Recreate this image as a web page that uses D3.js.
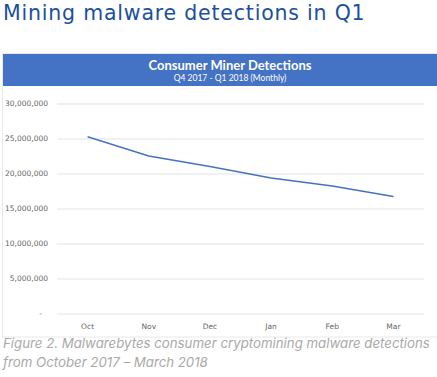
<!DOCTYPE html>
<html><head><meta charset="utf-8">
<script src="https://cdn.jsdelivr.net/npm/d3@7"></script>
<style>
body{margin:0;background:#fff;}
svg{display:block;}
</style></head>
<body>
<svg id="chart" width="437" height="377"></svg>
<script>
const pageTitle = "Mining malware detections in Q1";
const chartTitle = "Consumer Miner Detections";
const chartSubtitle = "Q4 2017 - Q1 2018 (Monthly)";
const captionLines = ["Figure 2. Malwarebytes consumer cryptomining malware detections", "from October 2017 \u2013 March 2018"];
const months = ["Oct", "Nov", "Dec", "Jan", "Feb", "Mar"];
const detections = [25250000, 22500000, 21000000, 19350000, 18200000, 16700000];
const yTicks = [0, 5000000, 10000000, 15000000, 20000000, 25000000, 30000000];

const svg = d3.select("#chart");

svg.append("text").attr("x", 3).attr("y", 19.5)
  .attr("font-family", "'DejaVu Sans', sans-serif").attr("font-size", 20.5)
  .attr("letter-spacing", 0.8)
  .attr("fill", "#1c4f9d").text(pageTitle);

// chart box
svg.append("rect").attr("x", 2.5).attr("y", 53.5).attr("width", 460).attr("height", 283.5)
  .attr("fill", "#fff").attr("stroke", "#e8e8e8");
svg.append("rect").attr("x", 3).attr("y", 54).attr("width", 460).attr("height", 32)
  .attr("fill", "#4472c4");
svg.append("text").attr("x", 230).attr("y", 70).attr("text-anchor", "middle")
  .attr("font-family", "Lato, 'Open Sans', sans-serif").attr("font-weight", "bold").attr("font-size", 13)
  .attr("fill", "#fff").text(chartTitle);
svg.append("text").attr("x", 230).attr("y", 81).attr("text-anchor", "middle")
  .attr("font-family", "Lato, 'Open Sans', sans-serif").attr("font-size", 8.5)
  .attr("fill", "#fff").text(chartSubtitle);

const x = d3.scaleBand().domain(months).range([57, 424]);
const y = d3.scaleLinear().domain([0, 30000000]).range([313.5, 103.5]);

const fmt = v => v === 0 ? "-" : d3.format(",")(v);

const yAxis = svg.append("g").attr("transform", "translate(57,0)")
  .call(d3.axisLeft(y).tickValues(yTicks).tickSize(-367).tickFormat(fmt).tickPadding(9));
yAxis.select(".domain").remove();
yAxis.selectAll(".tick line").attr("stroke", "#e3e3e3").attr("stroke-width", 1);
yAxis.selectAll(".tick text").attr("fill", "#666").attr("font-size", 7.5)
  .attr("font-family", "'DejaVu Sans', sans-serif");
yAxis.selectAll(".tick").filter(d => d === 0).select("text").attr("dx", -6);

const xAxis = svg.append("g").attr("transform", "translate(0,313.5)")
  .call(d3.axisBottom(x).tickSize(0).tickPadding(10));
xAxis.select(".domain").remove();
xAxis.selectAll(".tick text").attr("fill", "#666").attr("font-size", 7.5)
  .attr("font-family", "'DejaVu Sans', sans-serif");

const line = d3.line().x((d, i) => x(months[i]) + x.bandwidth() / 2).y(d => y(d));
svg.append("path").datum(detections).attr("d", line)
  .attr("fill", "none").attr("stroke", "#4472c4").attr("stroke-width", 1.5);

svg.selectAll(".cap").data(captionLines).enter().append("text")
  .attr("x", 3).attr("y", (d, i) => 347.5 + i * 19.5)
  .attr("font-family", "Inter, 'Open Sans', sans-serif").attr("font-style", "italic")
  .attr("font-size", 13.25).attr("fill", "#a9a9a9").text(d => d);
</script>
</body></html>
